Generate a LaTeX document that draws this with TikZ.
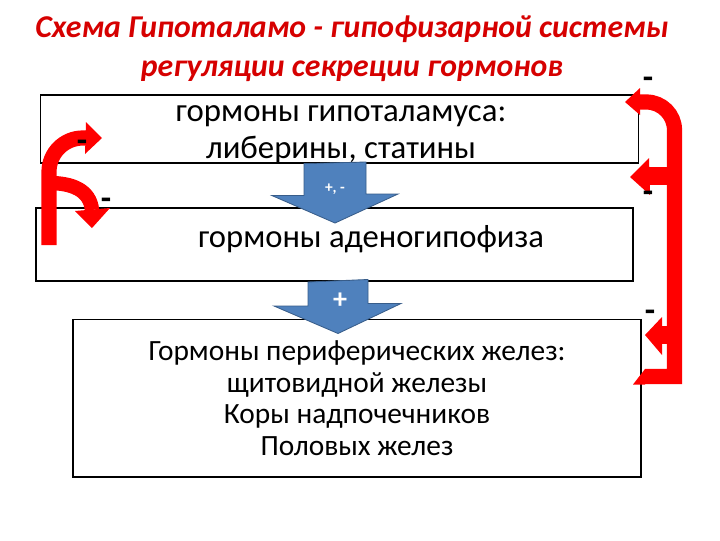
\documentclass[tikz,border=0pt]{standalone}
\usepackage{fontspec}
\setmainfont{Carlito}
\usetikzlibrary{calc}

\begin{document}
\begin{tikzpicture}[x=0.025cm,y=-0.025cm]
% Define colors
\definecolor{titlered}{RGB}{214,0,0}
\definecolor{fbred}{RGB}{255,0,0}
\definecolor{arrowblue}{RGB}{79,129,189}
\definecolor{arrowedge}{RGB}{56,93,138}

\tikzset{
  box/.style={draw=black, inner sep=0pt},
  boxtext/.style={align=center, font=\fontsize{20.9}{22.5}\selectfont},
  bluearrow/.style={fill=arrowblue, draw=arrowedge, line width=0.6pt},
  signtext/.style={text=white, font=\bfseries\fontsize{11}{11}\selectfont},
  fbline/.style={draw=fbred, line width=0.38cm},
  fbhead/.style={fill=fbred},
  minus/.style={font=\bfseries\fontsize{24}{24}\selectfont, inner sep=0pt}
}

\useasboundingbox[fill=white] (0,0) rectangle (720,540);

% Title
\node[font=\bfseries\itshape\fontsize{22.6}{27.5}\selectfont, text=titlered, align=center] (title) at (352,49)
  {Схема Гипоталамо - гипофизарной системы\\регуляции секреции гормонов};

% Draw hormone boxes
\node[box, line width=0.8pt, minimum width=14.925cm, minimum height=1.7cm] (hyp) at (339.5,129) {};
\node[boxtext, font=\fontsize{23.3}{26.3}\selectfont] (hyptxt) at (341,135) {гормоны гипоталамуса:\\либерины, статины};

\node[box, line width=1.4pt, minimum width=14.925cm, minimum height=1.825cm] (aden) at (334.5,244.5) {};
\node[boxtext, font=\fontsize{23.2}{26}\selectfont] (adentxt) at (371,239) {гормоны аденогипофиза};

\node[box, line width=1.4pt, minimum width=14.2cm, minimum height=3.925cm, boxtext] (per) at (357,398)
  {Гормоны периферических желез:\\щитовидной железы\\Коры надпочечников\\Половых желез};

% Blue arrows between levels
\path ($(hyp.south)+(-4.5,0)$) coordinate (a1s) ($(aden.north)+(0.5,16)$) coordinate (a1e);
\filldraw[bluearrow] (a1s) ++(-31,0) -- ++(0,32) -- ++(-32,0) -- (a1e) -- ++(63,-29) -- ++(-32,0) -- ++(0,-32) -- cycle;
\node[signtext] (s1) at ($(a1s)+(0,26)$) {+, -};

\path ($(aden.south)+(3.5,0)$) coordinate (a2s) ($(per.north)+(-19,15)$) coordinate (a2e);
\filldraw[bluearrow] (a2s) ++(-30,0) -- ++(0,24) -- ++(-34,0) -- (a2e) -- ++(63,-30) -- ++(-33,0) -- ++(0,-24) -- cycle;
\node[signtext, font=\bfseries\fontsize{20}{20}\selectfont] (s2) at ($(a2s)+(2,19)$) {+};

% Left feedback arrows
\coordinate (lfoot) at (49,245);
\coordinate (ltop) at (86,138);
\coordinate (lmid) at (49,183);
\coordinate (llow) at (92,210);
\draw[fbline, rounded corners=24] (lfoot) |- (ltop);
\fill[fbhead] (86,122) -- (102,138) -- (85,154) -- cycle;
\draw[fbline, line width=0.36cm] (lmid) .. controls (72,183) and (90,190) .. (llow);
\fill[fbhead] (75,211) -- (110,208) -- (92,228) -- cycle;

% Right feedback arrows
\coordinate (rfoot) at (645,376.5);
\coordinate (rtop) at (639,102);
\draw[fbline] (rfoot) -| (674.5,140) [rounded corners=20] -- (674.5,102) -- (rtop);
\fill[fbhead] (640,88) -- (625,102) -- (640,115) -- cycle;
\fill[fbhead] (645,369) -- (633,384.5) -- (645,384.5) -- cycle;
\draw[fbline, line width=0.45cm] (674.5,176) -- (649,176);
\fill[fbhead] (649,158) -- (630,177) -- (650,195) -- cycle;
\draw[fbline, line width=0.45cm] (674.5,335) -- (661,335);
\fill[fbhead] (662,317) -- (645,335) -- (662,355) -- cycle;

% Minus signs
\node[minus] (m1) at (648,83) {-};
\node[minus] (m2) at (648,197) {-};
\node[minus] (m3) at (650,316) {-};
\node[minus] (m4) at (82,146) {-};
\node[minus] (m5) at (106,204) {-};
\end{tikzpicture}
\end{document}
